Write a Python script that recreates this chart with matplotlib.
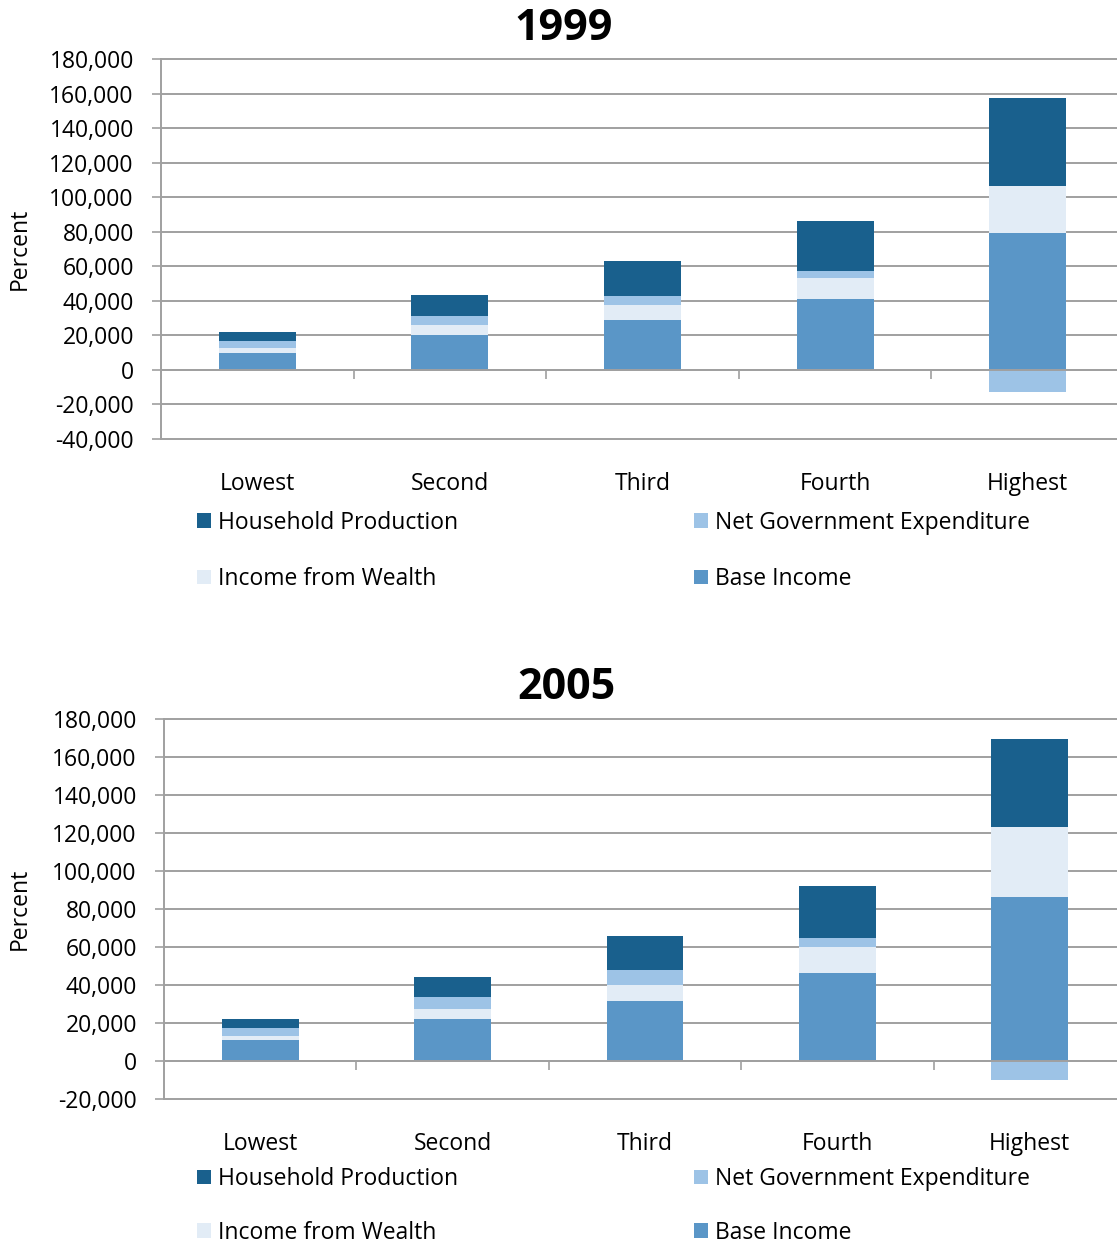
import numpy as np
import matplotlib
matplotlib.use('Agg')
import matplotlib.pyplot as plt
from matplotlib.patches import Patch
from matplotlib.ticker import StrMethodFormatter

plt.rcParams['font.family'] = ['Open Sans', 'DejaVu Sans']
plt.rcParams['axes.unicode_minus'] = False

# Dados
categories = ['Lowest', 'Second', 'Third', 'Fourth', 'Highest']

base_1999 = [10000, 20100, 29000, 41000, 79300]
wealth_1999 = [2600, 6000, 8500, 12400, 27300]
gov_1999 = [4000, 5200, 5400, 3900, -12800]
hh_1999 = [5400, 12200, 20100, 29000, 50700]

base_2005 = [11200, 22100, 31400, 46100, 86500]
wealth_2005 = [2100, 5300, 8600, 13700, 36500]
gov_2005 = [4200, 6100, 7700, 4700, -10200]
hh_2005 = [4600, 10700, 18100, 27400, 46300]

series_names = ['Base Income', 'Income from Wealth', 'Net Government Expenditure', 'Household Production']
colors = ['#5A96C7', '#E2ECF6', '#9DC3E6', '#19608D']
grid_color = '#A0A0A0'
W, H = 1117, 1249
FS = 16.5


def draw_panel(ax, series, title, ymin, title_x, title_y, legend_y, legend_gap):
    x = np.arange(len(categories))
    pos_bottom = np.zeros(len(categories))
    neg_bottom = np.zeros(len(categories))
    for vals, color in zip(series, colors):
        vals = np.array(vals, dtype=float)
        bottom = np.where(vals >= 0, pos_bottom, neg_bottom)
        ax.bar(x, vals, width=0.4, bottom=bottom, color=color, linewidth=0, zorder=3)
        pos_bottom += np.where(vals >= 0, vals, 0)
        neg_bottom += np.where(vals < 0, vals, 0)

    ax.set_xlim(-0.5, 4.5)
    ax.set_ylim(ymin, 180000)
    ax.set_yticks(np.arange(ymin, 180001, 20000))
    ax.yaxis.set_major_formatter(StrMethodFormatter('{x:,.0f}'))
    ax.yaxis.grid(True, color=grid_color, linewidth=1.4, zorder=1)
    for gl in ax.get_ygridlines():
        gl.set_clip_on(False)
    ax.tick_params(axis='y', length=6.5, width=1.2, color=grid_color, pad=13, labelsize=FS)

    ax.set_xticks(np.arange(-0.5, 4.6, 1.0))
    ax.set_xticklabels([])
    ax.tick_params(axis='x', length=6.5, width=1.2, color=grid_color, direction='out')

    for s in ['top', 'right']:
        ax.spines[s].set_visible(False)
    ax.spines['left'].set_color(grid_color)
    ax.spines['left'].set_linewidth(1.4)
    ax.spines['bottom'].set_position(('data', 0))
    ax.spines['bottom'].set_color(grid_color)
    ax.spines['bottom'].set_linewidth(1.4)
    ax.spines['bottom'].set_zorder(4)

    # Rótulos das categorias abaixo do gráfico
    for i, cat in enumerate(categories):
        ax.text(i, -0.118, cat, transform=ax.get_xaxis_transform(), ha='center', va='center', fontsize=FS)

    ax.figure.text(title_x / W, 1 - title_y / H, title, ha='center', va='center', fontsize=31, fontweight='bold')

    # Legenda em duas colunas
    handles = [Patch(facecolor=c, edgecolor='none') for c in colors]
    col1 = [(handles[3], series_names[3]), (handles[1], series_names[1])]
    col2 = [(handles[2], series_names[2]), (handles[0], series_names[0])]
    for xpix, col in [(197, col1), (694, col2)]:
        ax.figure.legend([h for h, _ in col], [l for _, l in col], loc='center left',
                         bbox_to_anchor=(xpix / W, 1 - legend_y / H), frameon=False,
                         fontsize=FS, handlelength=0.62, handleheight=0.62,
                         handletextpad=0.28, labelspacing=legend_gap, borderpad=0, borderaxespad=0)


fig = plt.figure(figsize=(W / 100, H / 100), dpi=100)

ax1 = fig.add_axes([161 / W, 1 - 439 / H, (1124 - 161) / W, 380 / H])
draw_panel(ax1, [base_1999, wealth_1999, gov_1999, hh_1999], '1999', -40000, 564, 28, 551, 1.4)
fig.text(20 / W, 1 - 249 / H, 'Percent', rotation=90, ha='center', va='center', fontsize=FS)

ax2 = fig.add_axes([164 / W, 1 - 1099 / H, (1126 - 164) / W, 380 / H])
draw_panel(ax2, [base_2005, wealth_2005, gov_2005, hh_2005], '2005', -20000, 566, 688, 1206, 1.3)
fig.text(20 / W, 1 - 909 / H, 'Percent', rotation=90, ha='center', va='center', fontsize=FS)

plt.savefig('out.png', dpi=100)
